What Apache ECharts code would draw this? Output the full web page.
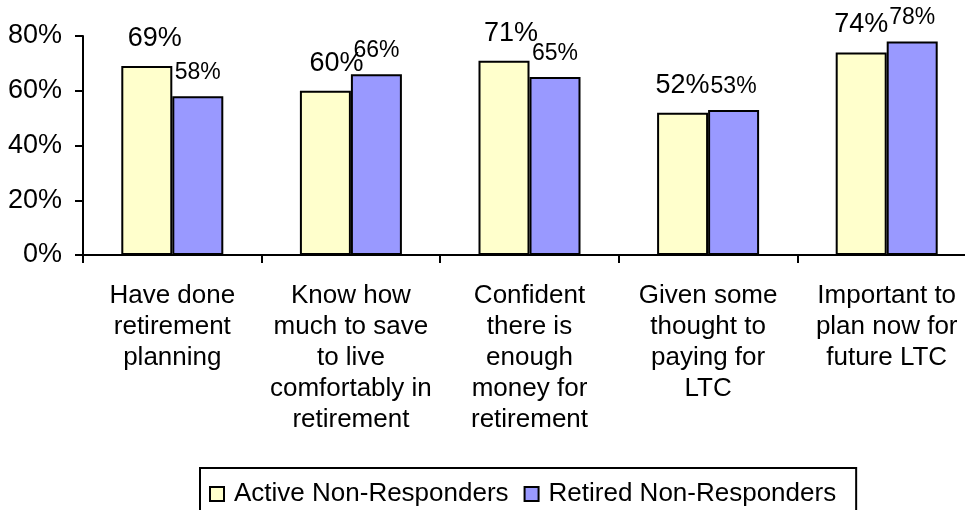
<!DOCTYPE html>
<html>
<head>
<meta charset="utf-8">
<script src="https://cdn.jsdelivr.net/npm/echarts@6/dist/echarts.min.js"></script>
<style>
  html, body { margin: 0; padding: 0; background: #fff; overflow: hidden; }
  /* wider than the window: the right end of the axis runs off the picture */
  #chart { width: 980px; height: 510px; }
</style>
</head>
<body>
<div id="chart"></div>
<script>
const categories = [
  "Have done\nretirement\nplanning",
  "Know how\nmuch to save\nto live\ncomfortably in\nretirement",
  "Confident\nthere is\nenough\nmoney for\nretirement",
  "Given some\nthought to\npaying for\nLTC",
  "Important to\nplan now for\nfuture LTC"
]
const activeValues = [69, 60, 71, 52, 74]
const retiredValues = [58, 66, 65, 53, 78]
const yTicks = [0, 20, 40, 60, 80]

// small sideways nudges of the yellow labels, as in the original
const activeLabelShift = [8, 11, 7, 0, 0]

const font = "'Liberation Sans', Arial, sans-serif"

const chart = echarts.init(document.getElementById("chart"))

const option = {
  animation: false,
  backgroundColor: "#fff",
  textStyle: { fontFamily: font, color: "#000" },
  grid: {
    left: 83,
    right: 4,
    top: 36,
    bottom: 255
  },
  legend: {
    left: 200,
    top: 468,
    orient: "horizontal",
    padding: [13, 20, 30, 9],
    itemGap: 15,
    itemWidth: 14,
    itemHeight: 14,
    borderColor: "#000",
    borderWidth: 2,
    borderRadius: 0,
    icon: "rect",
    textStyle: {
      fontFamily: font,
      fontSize: 26,
      color: "#000",
      padding: [0, 0, 0, 5]
    },
    data: ["Active Non-Responders", "Retired Non-Responders"]
  },
  xAxis: {
    type: "category",
    data: categories,
    axisLine: { lineStyle: { color: "#000", width: 2 } },
    axisTick: { show: true, length: 8, inside: false, lineStyle: { color: "#000", width: 2 } },
    axisLabel: {
      interval: 0,
      margin: 25,
      fontFamily: font,
      fontSize: 26,
      lineHeight: 31,
      color: "#000",
      align: "center"
    },
    splitLine: { show: false }
  },
  yAxis: {
    type: "value",
    min: yTicks[0],
    max: yTicks[yTicks.length - 1],
    interval: 20,
    axisLine: { show: true, lineStyle: { color: "#000", width: 2 } },
    axisTick: { show: true, length: 8, inside: false, lineStyle: { color: "#000", width: 2 } },
    axisLabel: {
      margin: 21,
      fontFamily: font,
      fontSize: 27,
      color: "#000",
      formatter: (v) => v + "%"
    },
    splitLine: { show: false }
  },
  series: [
    {
      name: "Active Non-Responders",
      type: "bar",
      barWidth: 51,
      barGap: "0%",
      data: activeValues.map((v, i) => ({
        value: v,
        label: { offset: [activeLabelShift[i], 0] }
      })),
      itemStyle: { color: "#FFFFCC", borderColor: "#000", borderWidth: 2 },
      label: {
        show: true,
        position: "top",
        distance: 14,
        fontFamily: font,
        fontSize: 27,
        color: "#000",
        formatter: (p) => p.value + "%"
      }
    },
    {
      name: "Retired Non-Responders",
      type: "bar",
      barWidth: 51,
      barGap: "0%",
      data: retiredValues,
      itemStyle: { color: "#9999FF", borderColor: "#000", borderWidth: 2 },
      label: {
        show: true,
        position: "top",
        distance: 12,
        fontFamily: font,
        fontSize: 23,
        color: "#000",
        formatter: (p) => p.value + "%"
      }
    }
  ]
}

chart.setOption(option)
</script>
</body>
</html>
